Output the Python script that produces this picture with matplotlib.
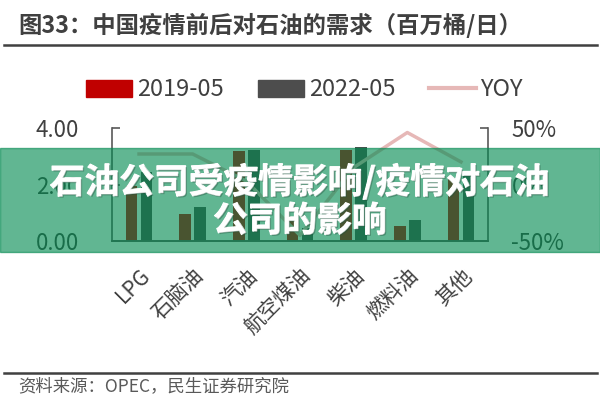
import numpy as np
import matplotlib.pyplot as plt
import matplotlib.patheffects as pe
from matplotlib.patches import Patch, Rectangle
from matplotlib.lines import Line2D
from matplotlib.ticker import FuncFormatter

plt.rcParams['font.family'] = ['Noto Sans CJK SC', 'DejaVu Sans']

# data (million barrels / day)
categories = ['LPG', '石脑油', '汽油', '航空煤油', '柴油', '燃料油', '其他']
demand_2019 = [1.95, 0.94, 3.17, 0.75, 3.22, 0.52, 2.20]
demand_2022 = [2.45, 1.20, 3.22, 0.45, 3.31, 0.76, 2.30]
yoy = [0.27, 0.27, 0.03, -0.45, 0.15, 0.46, 0.20]

red = '#C00000'
grey = '#4D4D4D'
pink = '#E6B8B7'
axis_col = '#595959'

fig = plt.figure(figsize=(6, 4), dpi=100)
ax = fig.add_axes([0.187, 0.3975, 0.626, 0.2825])
ax2 = ax.twinx()

x = np.arange(len(categories))
w = 0.22
ax.bar(x - 0.14, demand_2019, w, color=red, zorder=2)
ax.bar(x + 0.14, demand_2022, w, color=grey, zorder=2)
ax2.plot(x, yoy, color=pink, lw=2.5, zorder=3)

ax.set_xlim(-0.5, len(categories) - 0.5)
ax.set_ylim(0, 4)
ax2.set_ylim(-0.5, 0.5)
ax.set_yticks([0, 2, 4])
ax2.set_yticks([-0.5, 0, 0.5])
ax.yaxis.set_major_formatter(FuncFormatter(lambda v, p: f'{v:.2f}'))
ax2.yaxis.set_major_formatter(FuncFormatter(lambda v, p: f'{v * 100:.0f}%'))

for a in (ax, ax2):
    a.spines['top'].set_visible(False)
    for s in ('left', 'right', 'bottom'):
        a.spines[s].set_color(axis_col)
        a.spines[s].set_linewidth(1.2)
    a.tick_params(axis='y', direction='in', length=6, width=1.2, color=axis_col,
                  labelsize=16, labelcolor='#404040')
ax.tick_params(axis='y', pad=24)
ax2.tick_params(axis='y', pad=17)
ax.spines['right'].set_visible(False)
ax2.spines['left'].set_visible(False)

ax.set_xticks(x)
ax.set_xticklabels(categories, rotation=45, ha='right', rotation_mode='anchor',
                   fontsize=15, color='#404040')
ax.tick_params(axis='x', length=0, pad=17)

# title and rules
fig.text(0.03, 1 - 25 / 400, '图33：中国疫情前后对石油的需求（百万桶/日）', fontsize=16.8,
         fontweight='bold', color='#404040', va='center', ha='left')
fig.add_artist(Line2D([0.007, 0.995], [1 - 45 / 400] * 2, color='#404040', lw=1.8))
fig.add_artist(Line2D([0.007, 0.995], [1 - 373 / 400] * 2, color='#404040', lw=1.8))
fig.text(0.03, 1 - 386 / 400, '资料来源：OPEC，民生证券研究院', fontsize=12.5,
         color='#595959', va='center', ha='left')

handles = [Patch(color=red), Patch(color=grey), Line2D([], [], color=pink, lw=3)]
fig.legend(handles, ['2019-05', '2022-05', 'YOY'], loc='center',
           bbox_to_anchor=(0.5075, 1 - 90 / 400), ncol=3, frameon=False, fontsize=17,
           handlelength=1.95, handletextpad=0.2, columnspacing=1.45,
           labelcolor='#404040')

# green banner over the chart
fig.add_artist(Rectangle((0, 1 - 252 / 400), 1, 104 / 400, transform=fig.transFigure,
                         color='#00894F', alpha=0.62, zorder=10))
shadow = [pe.withSimplePatchShadow(offset=(1, -1), shadow_rgbFace='#1f4f3a', alpha=0.5)]
fig.text(0.5, 1 - 182 / 400, '石油公司受疫情影响/疫情对石油', fontsize=25,
         fontweight='heavy', color='white', ha='center', va='center', zorder=11,
         path_effects=[pe.withStroke(linewidth=0.8, foreground='white'),
                       pe.SimplePatchShadow(offset=(1, -1), shadow_rgbFace='#1f4f3a', alpha=0.4),
                       pe.Normal()])
fig.text(0.5, 1 - 221 / 400, '公司的影响', fontsize=25,
         fontweight='heavy', color='white', ha='center', va='center', zorder=11,
         path_effects=[pe.withStroke(linewidth=0.8, foreground='white'),
                       pe.SimplePatchShadow(offset=(1, -1), shadow_rgbFace='#1f4f3a', alpha=0.4),
                       pe.Normal()])

fig.savefig('out.png', dpi=100, facecolor='white')
